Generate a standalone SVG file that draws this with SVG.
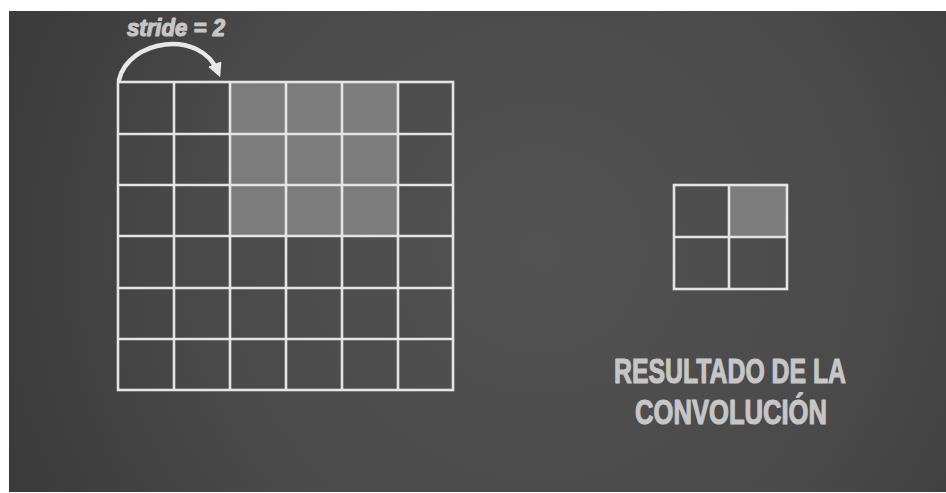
<svg xmlns="http://www.w3.org/2000/svg" width="946" height="493" viewBox="0 0 946 493">
<style>
.grid line, .grid rect.frame { stroke:#e4e4e4; stroke-width:2.6; fill:none; }
.hl { fill:#7c7c7c; }
.lbl { font-family:"Liberation Sans","DejaVu Sans",sans-serif; font-weight:bold; fill:#c6c6c6; stroke:#c6c6c6; stroke-width:1.2; stroke-linejoin:round; }
</style>
<defs>
<radialGradient id="bg" cx="540" cy="250" r="560" gradientUnits="userSpaceOnUse">
<stop offset="0" stop-color="#525252"/>
<stop offset="0.6" stop-color="#4a4a4a"/>
<stop offset="1" stop-color="#3b3b3b"/>
</radialGradient>
<marker id="ah" viewBox="0 0 10 10" refX="6" refY="5" markerWidth="3.2" markerHeight="3.2" orient="auto" markerUnits="strokeWidth">
<path d="M0,0 L10,5 L0,10 Z" fill="#e8e8e8"/>
</marker>
</defs>
<rect width="946" height="493" fill="#ffffff"/>
<rect x="9" y="11" width="937" height="481" fill="url(#bg)"/>

<g id="input-grid" class="grid">
<rect class="hl" x="230" y="82" width="168" height="154"/>
<rect class="frame" x="118" y="82" width="335" height="308"/>
<line x1="174" y1="82" x2="174" y2="390"/>
<line x1="230" y1="82" x2="230" y2="390"/>
<line x1="286" y1="82" x2="286" y2="390"/>
<line x1="342" y1="82" x2="342" y2="390"/>
<line x1="398" y1="82" x2="398" y2="390"/>
<line x1="118" y1="134" x2="453" y2="134"/>
<line x1="118" y1="185" x2="453" y2="185"/>
<line x1="118" y1="236" x2="453" y2="236"/>
<line x1="118" y1="288" x2="453" y2="288"/>
<line x1="118" y1="339" x2="453" y2="339"/>
</g>

<g id="output-grid" class="grid">
<rect class="hl" x="729" y="185" width="58" height="52"/>
<rect class="frame" x="674" y="185" width="113" height="104"/>
<line x1="729" y1="185" x2="729" y2="289"/>
<line x1="674" y1="237" x2="787" y2="237"/>
</g>

<g id="connectors">
<path d="M119,80 C128,40 200,28 218,72" fill="none" stroke="#e8e8e8" stroke-width="4.5" stroke-linecap="round" marker-end="url(#ah)"/>
</g>

<g id="stride-label">
<text class="lbl" x="127" y="36" font-size="24" font-style="italic" textLength="98" lengthAdjust="spacingAndGlyphs">stride = 2</text>
</g>

<g id="result-label">
<text class="lbl" x="614" y="383" font-size="35" textLength="232" lengthAdjust="spacingAndGlyphs">RESULTADO DE LA</text>
<text class="lbl" x="635" y="424" font-size="35" textLength="192" lengthAdjust="spacingAndGlyphs">CONVOLUCIÓN</text>
</g>
</svg>
